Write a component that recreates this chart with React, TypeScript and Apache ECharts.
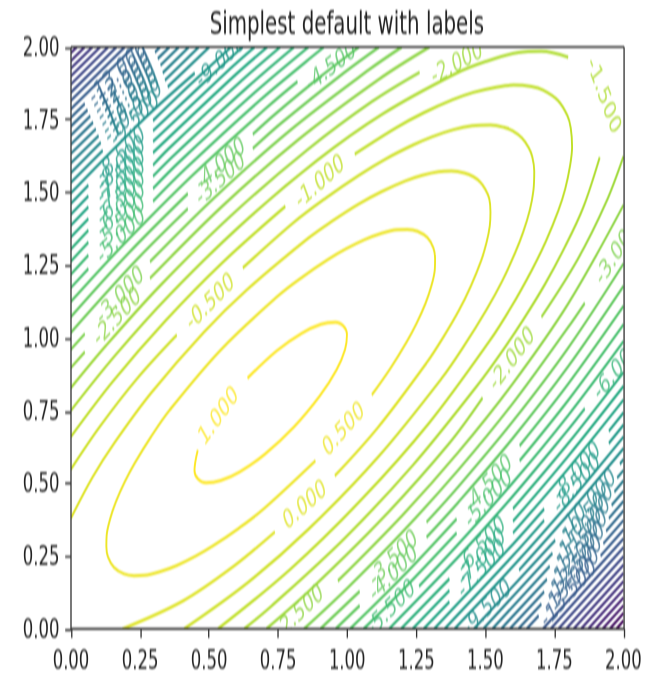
import React, { useEffect, useRef } from "react";
import * as echarts from "echarts";

type P = [number, number] | null;

const titleText = "Simplest default with labels";
const tickLabels = ["0.00", "0.25", "0.50", "0.75", "1.00", "1.25", "1.50", "1.75", "2.00"];

// level, then vertices; null marks a gap left for a label
const innerContours: [number, P[]][] = [
  [1, [[0.639,0.862],[0.745,0.956],[0.835,1.016],[0.905,1.047],[0.957,1.054],[0.986,1.041],[0.999,1.012],[0.992,0.96],[0.961,0.89],[0.9,0.8],[0.807,0.694],[0.701,0.6],[0.611,0.54],[0.542,0.51],[0.489,0.502],[0.46,0.515],[0.447,0.544],[0.459,0.615]]],
  [0.5, [[1.089,0.804],[1.156,0.895],[1.215,0.986],[1.251,1.05],[1.283,1.118],[1.304,1.177],[1.317,1.235],[1.318,1.273],[1.312,1.309],[1.29,1.345],[1.254,1.367],[1.218,1.373],[1.18,1.372],[1.122,1.359],[1.063,1.338],[0.995,1.306],[0.931,1.27],[0.84,1.211],[0.749,1.144],[0.542,0.959],[0.357,0.752],[0.29,0.661],[0.231,0.57],[0.195,0.506],[0.163,0.438],[0.142,0.379],[0.129,0.321],[0.128,0.283],[0.134,0.247],[0.156,0.211],[0.192,0.189],[0.228,0.183],[0.266,0.184],[0.324,0.197],[0.383,0.218],[0.451,0.25],[0.515,0.286],[0.606,0.345],[0.697,0.412],[0.885,0.578]]],
  [0, [[0.186,0],[0.405,0.096],[0.587,0.214],[0.738,0.333],null,[0.955,0.526],[1.11,0.691],[1.287,0.914],[1.348,1.003],[1.405,1.096],[1.4475,1.1785],[1.485,1.266],[1.504,1.327],[1.516,1.385],[1.5185,1.4325],[1.514,1.479],[1.499,1.512],[1.481,1.536],[1.457,1.554],[1.424,1.567],[1.3775,1.5735],[1.33,1.571],[1.272,1.559],[1.211,1.54],[1.1235,1.5025],[1.041,1.46],[0.948,1.403],[0.858,1.342],[0.636,1.165],[0.481,1.02],[0.29,0.811],[0.159,0.642],[0.079,0.523],[0,0.381]]],
  [-0.5, [[0.409,0],[0.641,0.16],[0.859,0.342],[1.111,0.59],[1.341,0.86],[1.425,0.976],[1.504,1.097],[1.559,1.192],[1.608,1.293],[1.637,1.364],[1.661,1.44],[1.674,1.507],[1.677,1.574],[1.67,1.622],[1.657,1.654],[1.6325,1.6875],[1.599,1.712],[1.567,1.724],[1.519,1.732],[1.452,1.729],[1.385,1.716],[1.309,1.692],[1.238,1.663],[1.137,1.614],[1.042,1.559],[0.921,1.48],[0.805,1.396],[0.622,1.241],null,[0.383,1.01],[0.24,0.861],[0.105,0.696],[0,0.549]]],
  [-1, [[0.5315,0],[0.795,0.206],[1.054,0.447],[1.295,0.706],[1.514,0.988],[1.594,1.107],[1.668,1.233],[1.719,1.332],[1.764,1.437],[1.789,1.512],[1.807,1.594],[1.814,1.657],[1.809,1.722],[1.797,1.764],[1.762,1.817],[1.709,1.852],[1.667,1.864],[1.602,1.869],[1.539,1.862],[1.457,1.844],[1.382,1.819],[1.277,1.774],[1.178,1.723],[1.027,1.632],null,[0.776,1.452],[0.545,1.256],[0.342,1.059],[0.151,0.85],[0,0.661]]],
  [-1.5, [[0.6265,0],[0.724,0.077],[0.99,0.311],[1.238,0.563],[1.468,0.833],[1.555,0.946],[1.638,1.064],[1.716,1.185],[1.788,1.313],[1.854,1.448],[1.914,1.621],null,[1.8,1.965],[1.702,1.985],[1.62,1.981],[1.501,1.95],[1.393,1.909],[1.13,1.771],[0.891,1.61],[0.614,1.387],[0.355,1.146],[0.16,0.94],[0,0.751]]],
];

const upperContours: [number, P[]][] = [
  [-2, [[0,0.829],[0.127,0.974],[0.322,1.179],[0.58,1.421],[0.855,1.646],[1.089,1.812],[1.262,1.913]]],
  [-2.5, [[0,0.898],[0.05,0.952],null,[0.286,1.205],[0.548,1.453],[0.821,1.68],[1.113,1.888],[1.298,2]]],
  [-3, [[0,0.961],[0.05,1.014],null,[0.286,1.262],[0.519,1.482],[0.79,1.711],[1.079,1.922],[1.198,2]]],
  [-3.5, [[0,1.019],[0.235,1.266],[0.423,1.444],null,[0.658,1.651],[0.762,1.739],[0.989,1.912],[1.115,2]]],
  [-4, [[0,1.073],[0.209,1.292],[0.423,1.496],null,[0.658,1.7],[0.735,1.766],[0.903,1.898],[1.043,2]]],
  [-4.5, [[0,1.125],[0.185,1.316],[0.441,1.56],[0.709,1.792],[0.82,1.881]]],
  [-5, [[0,1.173],[0.063,1.238],null,[0.297,1.47],[0.417,1.584],[0.684,1.817],[0.851,1.95],[0.916,2]]],
  [-5.5, [[0,1.219],[0.063,1.284],null,[0.297,1.514],[0.394,1.607],[0.661,1.84],[0.86,2]]],
  [-6, [[0,1.264],[0.063,1.329],null,[0.297,1.556],[0.373,1.628],[0.639,1.862],[0.808,2]]],
  [-6.5, [[0,1.306],[0.063,1.37],null,[0.297,1.594],[0.352,1.649],[0.617,1.884],[0.758,2]]],
  [-7, [[0,1.347],[0.063,1.41],null,[0.297,1.637],[0.596,1.905],[0.711,2]]],
  [-7.5, [[0,1.387],[0.063,1.45],null,[0.297,1.675],[0.576,1.925],[0.665,2]]],
  [-8, [[0,1.425],[0.063,1.488],null,[0.297,1.712],[0.556,1.944],[0.622,2]]],
  [-8.5, [[0,1.462],[0.063,1.525],null,[0.297,1.747],[0.431,1.87],[0.58,2]]],
  [-9, [[0,1.498],[0.256,1.745],[0.448,1.91]]],
  [-9.5, [[0,1.534],[0.115,1.644],null,[0.35,1.863],[0.501,2]]],
  [-10, [[0,1.568],[0.108,1.672],null,[0.34,1.886],[0.463,2]]],
  [-10.5, [[0,1.601],[0.1,1.695],null,[0.332,1.911],[0.427,2]]],
  [-11, [[0,1.634],[0.09,1.718],null,[0.324,1.937],[0.391,2]]],
  [-11.5, [[0,1.666],[0.08,1.741],null,[0.314,1.96],[0.357,2]]],
  [-12, [[0,1.697],[0.07,1.763],null,[0.304,1.982],[0.323,2]]],
  [-12.5, [[0,1.728],[0.06,1.784]]],
  [-13, [[0,1.758],[0.05,1.805]]],
  [-13.5, [[0,1.787],[0.226,2]]],
  [-14, [[0,1.816],[0.195,2]]],
  [-14.5, [[0,1.844],[0.165,2]]],
  [-15, [[0,1.872],[0.135,2]]],
  [-15.5, [[0,1.9],[0.106,2]]],
  [-16, [[0,1.927],[0.078,2]]],
  [-16.5, [[0,1.953],[0.05,2]]],
  [-17, [[0,1.98],[0.022,2]]],
];

const lowerContours: [number, P[]][] = [
  [-2, [[0.707,0],[0.8665,0.1345],[1.1245,0.3765],[1.3665,0.6345],[1.49,0.794],null,[1.703,1.072],[1.833,1.268],[1.9365,1.465],[2,1.624]]],
  [-2.5, [[0.966,0.165],[1.2,0.391],[1.4,0.605],[1.6,0.844],[1.8,1.118],[2,1.4565]]],
  [-3, [[0.843,0],[1,0.14],[1.2,0.333],[1.4,0.544],[1.6,0.776],[1.8,1.037],[1.86,1.12]]],
  [-3.5, [[0.9026,0],[1.045,0.129],null,[1.287,0.367],[1.4,0.4865],[1.6,0.714],[1.8,0.966],[2,1.255]]],
  [-4, [[0.958,0],[1.045,0.08],null,[1.287,0.315],[1.4,0.433],[1.6,0.656],[1.8,0.902],[2,1.178]]],
  [-4.5, [[1.01,0],[1.2,0.179],[1.396,0.378],null,[1.624,0.6295],[1.8,0.842],[2,1.109]]],
  [-5, [[1.059,0],[1.2,0.133],[1.396,0.33],null,[1.624,0.578],[1.8,0.786],[2,1.046]]],
  [-5.5, [[1.26,0.147],[1.4,0.289],[1.6,0.503],[1.8,0.734],[2,0.988]]],
  [-6, [[1.151,0],[1.4,0.245],[1.6,0.457],[1.8,0.685],[1.86,0.757]]],
  [-6.5, [[1.194,0],[1.37,0.172],null,[1.6,0.413],[1.8,0.638],[2,0.882]]],
  [-7, [[1.236,0],[1.37,0.132],null,[1.6,0.37],[1.8,0.594],[2,0.834]]],
  [-7.5, [[1.276,0],[1.37,0.093],null,[1.6,0.33],[1.8,0.551],[2,0.787]]],
  [-8, [[1.314,0],[1.6,0.291],[1.713,0.412],null,[1.947,0.68],[2,0.743]]],
  [-8.5, [[1.352,0],[1.6,0.252],[1.713,0.373],null,[1.947,0.638],[2,0.701]]],
  [-9, [[1.388,0],[1.6,0.215],[1.8,0.43],[2,0.66]]],
  [-9.5, [[1.622,0.202],[1.8,0.393],[2,0.62]]],
  [-10, [[1.458,0],[1.753,0.305],null,[1.987,0.567],[2,0.582]]],
  [-10.5, [[1.492,0],[1.743,0.26],null,[1.977,0.519],[2,0.545]]],
  [-11, [[1.525,0],[1.733,0.215],null,[1.967,0.471],[2,0.509]]],
  [-11.5, [[1.557,0],[1.723,0.171],null,[1.957,0.425],[2,0.473]]],
  [-12, [[1.588,0],[1.713,0.128],null,[1.947,0.38],[2,0.439]]],
  [-12.5, [[1.619,0],[1.703,0.086],null,[1.937,0.336],[2,0.406]]],
  [-13, [[1.649,0],[1.693,0.045],null,[1.927,0.293],[2,0.373]]],
  [-13.5, [[1.917,0.251],[2,0.341]]],
  [-14, [[1.708,0],[2,0.31]]],
  [-14.5, [[1.736,0],[2,0.28]]],
  [-15, [[1.764,0],[2,0.249]]],
  [-15.5, [[1.792,0],[2,0.22]]],
  [-16, [[1.819,0],[2,0.191]]],
  [-16.5, [[1.846,0],[2,0.163]]],
  [-17, [[1.872,0],[2,0.135]]],
  [-17.5, [[1.898,0],[2,0.107]]],
  [-18, [[1.924,0],[2,0.08]]],
  [-18.5, [[1.95,0],[2,0.054]]],
  [-19, [[1.974,0],[2,0.028]]],
];

// level, x, y of each inline label
const contourLabels: [number, number, number][] = [
  [1,0.532,0.735],[0.5,0.985,0.69],[0,0.845,0.43],[-0.5,0.503,1.127],[-1,0.9,1.54],[-1.5,1.931,1.835],
  [-2,1.396,1.948],[-2,1.595,0.931],[-2.5,0.166,1.076],[-3,0.177,1.149],[-3.5,0.54,1.55],[-4,0.54,1.6],
  [-4.5,0.94,1.935],[-9,0.54,1.955],
  [-5,0.18,1.355],[-5.5,0.18,1.4],[-6,0.18,1.445],[-6.5,0.18,1.485],[-7,0.18,1.525],[-7.5,0.18,1.56],[-8,0.18,1.6],[-8.5,0.18,1.635],
  [-9.5,0.23,1.755],[-10,0.224,1.78],[-10.5,0.216,1.803],[-11,0.207,1.827],[-11.5,0.197,1.85],[-12,0.187,1.872],[-12.5,0.177,1.893],[-13,0.167,1.915],
  [-2.5,0.825,0.06],[-3,1.975,1.3],[-3.5,1.166,0.245],[-4,1.166,0.195],[-4.5,1.51,0.501],[-5,1.51,0.451],[-5.5,1.157,0.075],[-6,1.975,0.895],
  [-6.5,1.485,0.29],[-7,1.485,0.249],[-7.5,1.485,0.209],[-8,1.83,0.543],[-8.5,1.83,0.503],[-9.5,1.505,0.076],
  [-10,1.87,0.434],[-10.5,1.86,0.387],[-11,1.85,0.341],[-11.5,1.84,0.296],[-12,1.83,0.252],[-12.5,1.82,0.209],[-13,1.81,0.167],[-13.5,1.8,0.126],
];
const labelAngles = [
  42,36,30,33,30,-60,
  20,41,35,35,30,30,
  27,31,
  33,33,33,33,33,33,33,33,
  32,32,32,32,32,32,32,32,
  32,45,33,33,36,36,33,38,
  35,35,35,37,37,33,
  36,36,36,36,36,36,36,36,
];

const viridis = ["#440154","#482475","#414487","#355f8d","#2a788e","#21918c","#22a884","#44bf70","#7ad151","#bddf26","#fde725"];
const LEVEL_MIN = -19.5;
const LEVEL_MAX = 1;

function colorFor(level: number): string {
  const t = ((level - LEVEL_MIN) / (LEVEL_MAX - LEVEL_MIN)) * 10;
  const i = Math.min(9, Math.floor(t));
  const f = t - i;
  const hex = (s: string, a: number) => parseInt(s.slice(a, a + 2), 16);
  const mix = (a: number) => Math.round(hex(viridis[i], a) * (1 - f) + hex(viridis[i + 1], a) * f);
  return `rgb(${mix(1)},${mix(3)},${mix(5)})`;
}

const SX = 1.65;
const SY = 2.62;
const W = 646 / SX;
const H = 676 / SY;
const GRID = { left: 43.03, top: 17.94, width: 335.2, height: 222.1 };
const FONT = "DejaVu Sans";

function lineSeries([level, pts]: [number, P[]]) {
  return {
    type: "line",
    data: pts.map((p) => (p === null ? ["-", "-"] : p)),
    showSymbol: false,
    silent: true,
    smooth: 0.35,
    connectNulls: false,
    z: 2,
    lineStyle: { color: colorFor(level), width: 1.15 },
  };
}

export default function App() {
  const ref = useRef<HTMLDivElement>(null);
  useEffect(() => {
    const chart = echarts.init(ref.current!, undefined, { renderer: "svg" });
    const axisBase = {
      type: "value",
      min: 0,
      max: 2,
      interval: 0.25,
      z: 10,
      splitLine: { show: false },
      axisLine: { show: false },
      axisTick: { show: true, length: 3.5, lineStyle: { color: "#333", width: 0.8 } },
      axisLabel: {
        color: "#222",
        fontSize: 10,
        fontFamily: FONT,
        margin: 7,
        formatter: (v: number) => tickLabels[Math.round(v / 0.25)],
      },
    };
    const right = GRID.left + GRID.width;
    const bottom = GRID.top + GRID.height;
    const mask = (x: number, y: number, width: number, height: number) => ({
      type: "rect",
      z: 5,
      silent: true,
      shape: { x, y, width, height },
      style: { fill: "#fff" },
    });
    const spine = (x1: number, y1: number, x2: number, y2: number) => ({
      type: "line",
      z: 9,
      silent: true,
      shape: { x1, y1, x2, y2 },
      style: { stroke: "#333", lineWidth: 0.8 },
    });
    chart.setOption({
      animation: false,
      backgroundColor: "#fff",
      title: {
        text: titleText,
        left: GRID.left + GRID.width / 2 - 5.4,
        top: -2.2,
        textAlign: "center",
        z: 10,
        textStyle: { color: "#222", fontSize: 12, fontWeight: "normal", fontFamily: FONT },
      },
      grid: { ...GRID, show: false, containLabel: false },
      xAxis: axisBase,
      yAxis: axisBase,
      graphic: [
        mask(0, 0, W, GRID.top),
        mask(0, bottom, W, H - bottom),
        mask(0, 0, GRID.left, H),
        mask(right, 0, W - right, H),
        spine(GRID.left, GRID.top, right, GRID.top),
        spine(GRID.left, bottom, right, bottom),
        spine(GRID.left, GRID.top, GRID.left, bottom),
        spine(right, GRID.top, right, bottom),
      ],
      series: [
        ...innerContours.map(lineSeries),
        ...upperContours.map(lineSeries),
        ...lowerContours.map(lineSeries),
        {
          type: "scatter",
          symbolSize: 0,
          clip: false,
          silent: true,
          z: 3,
          data: contourLabels.map(([level, x, y], i) => ({
            value: [x, y],
            label: {
              show: true,
              position: "inside",
              align: "center",
              verticalAlign: "middle",
              rotate: labelAngles[i],
              color: colorFor(level),
              fontSize: 10,
              fontFamily: FONT,
              formatter: level.toFixed(3),
            },
          })),
        },
      ],
    });
    return () => chart.dispose();
  }, []);
  return (
    <div style={{ position: "absolute", left: 0, top: 0, width: 646, height: 676, overflow: "hidden", background: "#fff" }}>
      <div
        ref={ref}
        style={{
          width: W,
          height: H,
          transform: `scale(${SX},${SY})`,
          transformOrigin: "0 0",
          filter: "blur(0.4px)",
        }}
      />
    </div>
  );
}
